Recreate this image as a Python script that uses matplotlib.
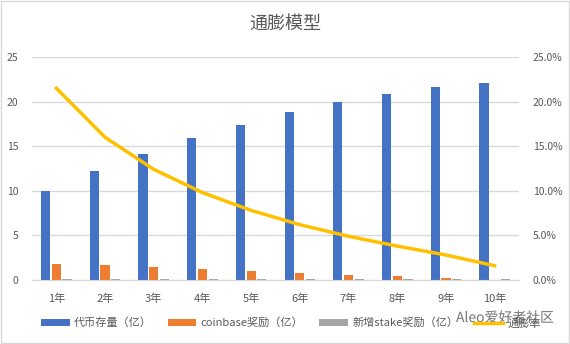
import numpy as np
import matplotlib.pyplot as plt
from matplotlib.ticker import FuncFormatter
import matplotlib.patheffects as pe

plt.rcParams['font.family'] = ['Noto Sans CJK SC', 'DejaVu Sans']

years = ['1年', '2年', '3年', '4年', '5年', '6年', '7年', '8年', '9年', '10年']
supply = [10.0, 12.2, 14.1, 15.9, 17.4, 18.8, 19.9, 20.8, 21.6, 22.1]
coinbase = [1.8, 1.7, 1.45, 1.2, 1.0, 0.8, 0.6, 0.48, 0.25, 0.0]
stake = [0.1, 0.1, 0.1, 0.1, 0.1, 0.1, 0.1, 0.1, 0.1, 0.1]
inflation = [21.5, 16.0, 12.4, 9.8, 7.8, 6.2, 4.9, 3.8, 2.8, 1.6]

text_col = '#595959'
grid_col = '#D9D9D9'

fig = plt.figure(figsize=(5.7, 3.44), dpi=100)
ax = fig.add_axes([32 / 570, 1 - 280 / 344, 487 / 570, 223 / 344])
ax2 = ax.twinx()

x = np.arange(len(years))
w = 0.19
step = 0.22
b1 = ax.bar(x - step, supply, w, color='#4472C4', label='代币存量（亿）', zorder=2)
b2 = ax.bar(x, coinbase, w, color='#ED7D31', label='coinbase奖励（亿）', zorder=2)
b3 = ax.bar(x + step, stake, w, color='#A5A5A5', label='新增stake奖励（亿）', zorder=2)
l1, = ax2.plot(x, inflation, color='#FFC000', lw=2.5, label='通膨率', zorder=3)

ax.set_xlim(-0.5, len(years) - 0.5)
ax.set_ylim(0, 25)
ax.set_yticks(range(0, 26, 5))
ax2.set_ylim(0, 25)
ax2.set_yticks(range(0, 26, 5))
ax2.yaxis.set_major_formatter(FuncFormatter(lambda v, p: f'{v:.1f}%'))

ax.set_xticks(x)
ax.set_xticklabels(years)
ax.grid(axis='y', color=grid_col, lw=1, zorder=0)
ax.set_axisbelow(True)

for a in (ax, ax2):
    for s in a.spines.values():
        s.set_visible(False)
    a.tick_params(length=0, colors=text_col, labelsize=7.5)
ax.spines['bottom'].set_visible(True)
ax.spines['bottom'].set_color(grid_col)
ax.tick_params(axis='x', pad=10, labelsize=8)
ax.tick_params(axis='y', pad=10)
ax2.tick_params(axis='y', pad=10)

fig.text(0.5, 1 - 24 / 344, '通膨模型', ha='center', va='center',
         fontsize=13, color=text_col)

fig.legend(handles=[b1, b2, b3, l1], loc='center', ncol=4,
           bbox_to_anchor=(0.51, 1 - 323 / 344), frameon=False,
           fontsize=8, labelcolor=text_col, handlelength=2.6,
           handleheight=0.6, columnspacing=1.4, handletextpad=0.4)

# account watermark in the lower right corner
fig.text(0.80, 1 - 318 / 344, 'Aleo爱好者社区', ha='left', va='center',
         fontsize=10, color='#666666', alpha=0.85,
         path_effects=[pe.withStroke(linewidth=2, foreground='white')])

fig.patches.append(plt.Rectangle((0.001, 0.002), 0.997, 0.995, transform=fig.transFigure,
                                 fill=False, edgecolor=grid_col, lw=1))

fig.savefig('out.png', dpi=100)
